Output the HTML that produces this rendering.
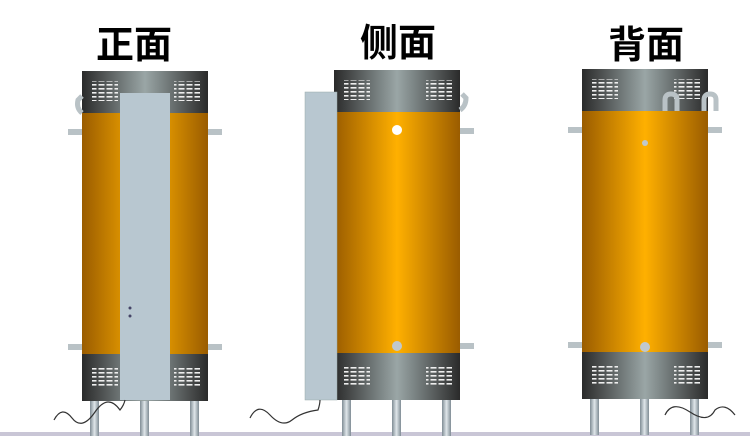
<!DOCTYPE html>
<html><head><meta charset="utf-8"><style>
html,body{margin:0;padding:0;background:#fff;width:750px;height:436px;overflow:hidden}
svg{display:block}
text{font-family:"Liberation Sans","Noto Sans CJK SC",sans-serif;font-size:38px;font-weight:bold;fill:#000}
</style></head><body>
<svg width="750" height="436" viewBox="0 0 750 436" xmlns="http://www.w3.org/2000/svg">
<defs>
<linearGradient id="or" x1="0" x2="1" y1="0" y2="0">
<stop offset="0" stop-color="#9a5c00"/><stop offset="0.5" stop-color="#ffb000"/><stop offset="1" stop-color="#9a5c00"/>
</linearGradient>
<linearGradient id="cap" x1="0" x2="1" y1="0" y2="0">
<stop offset="0" stop-color="#2a2a2a"/><stop offset="0.5" stop-color="#9aa6a6"/><stop offset="1" stop-color="#2a2a2a"/>
</linearGradient>
<linearGradient id="leg" x1="0" x2="1"><stop offset="0" stop-color="#7f8c94"/><stop offset="0.5" stop-color="#dfe6ea"/><stop offset="1" stop-color="#7f8c94"/></linearGradient>
<pattern id="vent" width="8" height="4" patternUnits="userSpaceOnUse"><rect x="0.5" y="1" width="6" height="1.6" fill="#eee"/></pattern>
<g id="unit">
<rect x="8" y="330" width="9" height="36" fill="url(#leg)"/>
<rect x="58" y="330" width="9" height="36" fill="url(#leg)"/>
<rect x="108" y="330" width="9" height="36" fill="url(#leg)"/>
<rect x="-14" y="58" width="16" height="6" fill="#b9c2c6"/>
<rect x="-14" y="273" width="16" height="6" fill="#b9c2c6"/>
<rect x="124" y="58" width="16" height="6" fill="#b9c2c6"/>
<rect x="124" y="273" width="16" height="6" fill="#b9c2c6"/>
<rect x="0" y="0" width="126" height="42" fill="url(#cap)"/>
<rect x="0" y="42" width="126" height="241" fill="url(#or)"/>
<rect x="0" y="283" width="126" height="47" fill="url(#cap)"/>
<rect x="10" y="10" width="26" height="20" fill="url(#vent)"/>
<rect x="92" y="10" width="26" height="20" fill="url(#vent)"/>
<rect x="10" y="295" width="26" height="22" fill="url(#vent)"/>
<rect x="92" y="295" width="26" height="22" fill="url(#vent)"/>
</g>
</defs>
<rect x="0" y="432" width="750" height="4" fill="#c9c6d6"/>
<text x="96" y="58">正面</text>
<text x="360" y="56">侧面</text>
<text x="608" y="58">背面</text>

<use href="#unit" x="82" y="71"/>
<path d="M82 113 Q76 108 78 100 L82 96" stroke="#b9c2c6" stroke-width="5" fill="none"/>
<rect x="120" y="93" width="50" height="307" fill="#b8c7d0"/>
<circle cx="130" cy="308" r="1.5" fill="#446"/><circle cx="130" cy="316" r="1.5" fill="#446"/>
<path d="M54 420 Q62 405 72 418 T95 412 T120 410 Q124 405 125 400" stroke="#333" stroke-width="1.2" fill="none"/>

<use href="#unit" x="334" y="70"/>
<path d="M460 110 Q466 106 466 98 L462 94" stroke="#b9c2c6" stroke-width="5" fill="none"/>
<rect x="305" y="92" width="32" height="308" fill="#b8c7d0" stroke="#9aa" stroke-width="0.5"/>
<circle cx="397" cy="130" r="5" fill="#fff"/>
<circle cx="397" cy="346" r="5" fill="#c0c8cc"/>
<path d="M250 418 Q258 402 270 415 T292 420 T318 410 Q320 404 320 400" stroke="#333" stroke-width="1.2" fill="none"/>

<use href="#unit" x="582" y="69"/>
<path d="M665 111 L665 100 Q665 94 671 94 Q677 94 677 100 L677 111" stroke="#b9c2c6" stroke-width="5" fill="none"/>
<path d="M704 111 L704 100 Q704 94 710 94 Q716 94 716 100 L716 111" stroke="#b9c2c6" stroke-width="5" fill="none"/>
<circle cx="645" cy="143" r="3" fill="#c0c8cc"/>
<circle cx="645" cy="347" r="5" fill="#c0c8cc"/>
<path d="M665 415 Q672 400 690 412 T715 410 Q725 402 735 415" stroke="#333" stroke-width="1.2" fill="none"/>
</svg>
</body></html>
